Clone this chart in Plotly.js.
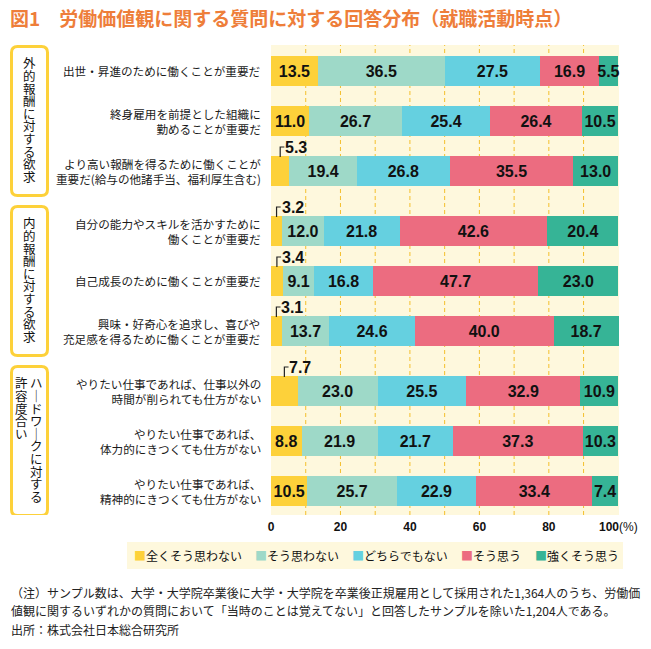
<!DOCTYPE html>
<html><head><meta charset="utf-8">
<script src="https://cdn.plot.ly/plotly-3.0.1.min.js"></script>
<style>html,body{margin:0;padding:0;background:#fff}</style>
</head><body><div id="chart" style="width:651px;height:649px"></div>
<script>
// ---------- data ----------
const categories = [
  '出世・昇進のために働くことが重要だ',
  '終身雇用を前提とした組織に<br>勤めることが重要だ',
  'より高い報酬を得るために働くことが<br>重要だ(給与の他諸手当、福利厚生含む)',
  '自分の能力やスキルを活かすために<br>働くことが重要だ',
  '自己成長のために働くことが重要だ',
  '興味・好奇心を追求し、喜びや<br>充足感を得るために働くことが重要だ',
  'やりたい仕事であれば、仕事以外の<br>時間が削られても仕方がない',
  'やりたい仕事であれば、<br>体力的にきつくても仕方がない',
  'やりたい仕事であれば、<br>精神的にきつくても仕方がない'
];
const seriesNames = ['全くそう思わない','そう思わない','どちらでもない','そう思う','強くそう思う'];
const notAtAll   = [13.5, 11.0, 5.3, 3.2, 3.4, 3.1, 7.7, 8.8, 10.5];
const disagree   = [36.5, 26.7, 19.4, 12.0, 9.1, 13.7, 23.0, 21.9, 25.7];
const neutral    = [27.5, 25.4, 26.8, 21.8, 16.8, 24.6, 25.5, 21.7, 22.9];
const agree      = [16.9, 26.4, 35.5, 42.6, 47.7, 40.0, 32.9, 37.3, 33.4];
const stronglyAgree = [5.5, 10.5, 13.0, 20.4, 23.0, 18.7, 10.9, 10.3, 7.4];
const groupSizes = [3, 3, 3];
const groupTitles = [['外的報酬に対する欲求'], ['内的報酬に対する欲求'], ['ハ｜ドワ｜クに対する', '許容度合い']];
const gridVals = [10, 20, 30, 40, 50, 60, 70, 80, 90];
const tickVals = [0, 20, 40, 60, 80, 100];
const tickText = ['<b>0</b>', '<b>20</b>', '<b>40</b>', '<b>60</b>', '<b>80</b>', '<b>100</b>(%)'];
const titleText = '図1　労働価値観に関する質問に対する回答分布（就職活動時点）';
const noteLines = [
  '（注）サンプル数は、大学・大学院卒業後に大学・大学院を卒業後正規雇用として採用された1,364人のうち、労働価',
  '値観に関するいずれかの質問において「当時のことは覚えてない」と回答したサンプルを除いた1,204人である。',
  '出所：株式会社日本総合研究所'
];

// ---------- styles ----------
const colors = ['#FDD13A', '#9ED9C8', '#65D0E0', '#EC6C80', '#36B496'];
const W = 651, H = 649;
const M = {l: 271, r: 32, t: 45, b: 134};
const PW = W - M.l - M.r, PH = H - M.t - M.b;
const xp = px => (px - M.l) / PW;
const yp = py => (H - M.b - py) / PH;
const JP = '"Noto Sans CJK JP", "Noto Sans", sans-serif';
const NUM = '"Liberation Sans", Arial, sans-serif';
const BAR_W = 0.6;
const CALLOUT_MAX = 8;
const NUMFONT = {family: NUM, size: 16, color: '#111', weight: 'bold'};

// row positions (groups separated by extra gap)
const rowY = [];
groupSizes.forEach((n, g) => { for (let i = 0; i < n; i++) rowY.push(g * 0.2 + rowY.length); });

const series = [notAtAll, disagree, neutral, agree, stronglyAgree];
const traces = series.map((vals, s) => ({
  type: 'bar', orientation: 'h', name: seriesNames[s],
  y: rowY, x: vals, width: BAR_W,
  marker: {color: colors[s], line: {width: 0}},
  text: vals.map(v => (s === 0 && v < CALLOUT_MAX) ? '' : v.toFixed(1)),
  textposition: 'inside', insidetextanchor: 'middle', constraintext: 'none', textangle: 0,
  textfont: NUMFONT, insidetextfont: NUMFONT,
  cliponaxis: false, hoverinfo: 'skip'
}));

const shapes = [];
const annotations = [];

// gridlines
gridVals.forEach(v => shapes.push({type: 'line', layer: 'below', xref: 'x', yref: 'paper',
  x0: v, x1: v, y0: 0, y1: 1, line: {color: '#F4BF2C', width: 1, dash: '4px,3px'}}));

// category labels
categories.forEach((c, i) => annotations.push({xref: 'paper', yref: 'y', x: 0, y: rowY[i],
  xanchor: 'right', yanchor: 'middle', xshift: -8, align: 'right', showarrow: false,
  text: c, font: {family: JP, size: 11.6, color: '#1a1a1a'}}));

// callouts for small values
notAtAll.forEach((v, i) => {
  if (v >= CALLOUT_MAX) return;
  const x = v / 2, yb = rowY[i] - BAR_W / 2 + 0.02, yt = rowY[i] - BAR_W / 2 - 0.18;
  shapes.push({type: 'path', xref: 'x', yref: 'y', layer: 'above',
    path: `M ${x},${yb} L ${x},${yt} L ${x + 1.2},${yt}`, line: {color: '#222', width: 1.2}});
  annotations.push({xref: 'x', yref: 'y', x: x, y: yt, xanchor: 'left', yanchor: 'middle',
    xshift: 3, showarrow: false, text: v.toFixed(1), font: NUMFONT});
});

// group boxes with vertical text
let start = 0;
groupSizes.forEach((n, g) => {
  const yTop = rowY[start] - 0.52, yBot = rowY[start + n - 1] + 0.52;
  const x0 = xp(11.5), x1 = xp(47.5), rx = 6 / PW, ry = 6 / 50;
  const t = yTop + 0.03, b = yBot - 0.03;
  shapes.push({type: 'path', xref: 'paper', yref: 'y', layer: 'above',
    path: `M ${x0 + rx},${t} L ${x1 - rx},${t} Q ${x1},${t} ${x1},${t + ry} L ${x1},${b - ry} Q ${x1},${b} ${x1 - rx},${b} L ${x0 + rx},${b} Q ${x0},${b} ${x0},${b - ry} L ${x0},${t + ry} Q ${x0},${t} ${x0 + rx},${t} Z`,
    fillcolor: '#fff', line: {color: '#FDD13A', width: 3}});
  const cols = groupTitles[g];
  const yc = (yTop + yBot) / 2 - 0.03;
  const step = 12.6;
  const maxLen = Math.max(...cols.map(c => c.length));
  const colX = cols.length === 1 ? [29] : [36, 22];
  cols.forEach((col, k) => {
    Array.from(col).forEach((ch, j) => {
      annotations.push({xref: 'paper', yref: 'y', x: xp(colX[k]), y: yc,
        yshift: -((j - (maxLen - 1) / 2) * step), xanchor: 'center', yanchor: 'middle',
        showarrow: false, borderpad: 0, text: ch, font: {family: JP, size: 12.5, color: '#111'}});
    });
  });
  start += n;
});

// legend
shapes.push({type: 'rect', xref: 'paper', yref: 'paper', x0: xp(127), x1: xp(623),
  y0: yp(569), y1: yp(542), fillcolor: '#FEF8DD', line: {width: 0}, layer: 'above'});
let lx = 133;
seriesNames.forEach((nm, s) => {
  annotations.push({xref: 'paper', yref: 'paper', x: xp(lx), y: yp(555.5), xanchor: 'left',
    yanchor: 'middle', showarrow: false, borderpad: 0,
    text: `<span style="color:${colors[s]}">■</span>${nm}`,
    font: {family: JP, size: 12, color: '#111'}});
  lx += (nm.length + 1) * 11.75 + 15;
});

// footnotes
noteLines.forEach((ln, i) => annotations.push({xref: 'paper', yref: 'paper', x: xp(9),
  y: yp(592 + i * 18.5), xanchor: 'left', yanchor: 'middle', showarrow: false,
  text: ln, font: {family: JP, size: 12, color: '#222'}}));

const layout = {
  width: W, height: H, margin: M,
  paper_bgcolor: '#fff', plot_bgcolor: '#FEF8DD',
  barmode: 'stack', showlegend: false,
  title: {text: titleText, x: 10 / W, xanchor: 'left', y: 1 - 19 / H, yanchor: 'middle',
    font: {family: JP, size: 19, color: '#EE7E3A', weight: 'bold'}},
  xaxis: {range: [0, 100.2], tickvals: tickVals, ticktext: tickText, showgrid: false,
    zeroline: false, showline: false, ticks: '', fixedrange: true, ticklabelstandoff: 3,
    tickfont: {family: NUM, size: 12, color: '#111'}},
  yaxis: {range: [rowY[rowY.length - 1] + 0.48, -0.52], showticklabels: false, showgrid: false,
    zeroline: false, ticks: '', fixedrange: true},
  shapes: shapes, annotations: annotations
};
Plotly.newPlot('chart', traces, layout, {displayModeBar: false, staticPlot: true});
</script></body></html>
